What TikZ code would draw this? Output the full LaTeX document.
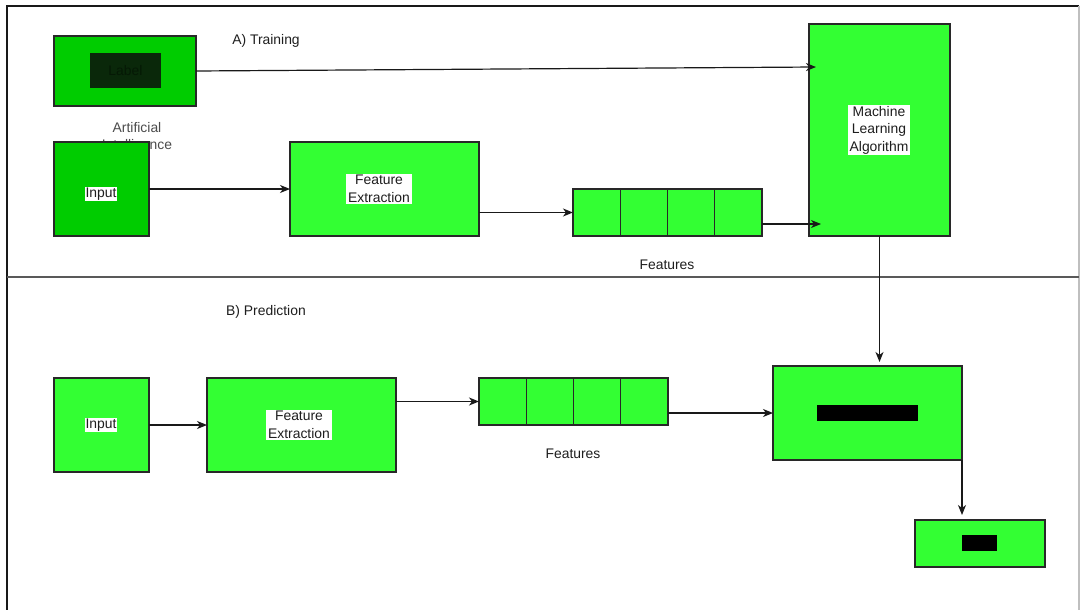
\documentclass[tikz,border=0pt]{standalone}
\usepackage{fontspec}
\setmainfont{Liberation Sans}
\usetikzlibrary{arrows.meta,calc}

\definecolor{darkgreen}{RGB}{0,204,0}
\definecolor{litegreen}{RGB}{51,255,51}
\definecolor{inkgreen}{RGB}{10,40,10}
\definecolor{edge}{RGB}{40,40,40}
\definecolor{txt}{RGB}{30,30,30}

\tikzset{
  base/.style={draw=edge, line width=1.2pt, inner sep=0pt, outer sep=0pt, rectangle},
  gbox/.style={base, fill=litegreen},
  dbox/.style={base, fill=darkgreen},
  cellbox/.style={base, fill=litegreen, minimum width=47.25pt, minimum height=47pt},
  barbox/.style={rectangle, fill=black, inner sep=0pt, outer sep=0pt},
  tag/.style={fill=white, text=txt, inner xsep=2pt, inner ysep=1.2pt, align=center},
  caption/.style={text=txt, inner sep=0pt},
  arr/.style={draw=black!90, line width=1.2pt, -{Stealth[length=10pt,width=8pt,inset=3pt]}},
  frameline/.style={line width=1.2pt}
}

\begin{document}
\begin{tikzpicture}[x=1pt, y=-1pt, font=\fontsize{13.9}{17.5}\selectfont]
\useasboundingbox (0,0) rectangle (1080,610);
\fill[white] (0,0) rectangle (1080,610);

% outer frame and section divider
\draw[frameline, draw=black!90] (7,610) -- (7,6) -- (1079,6);
\draw[frameline, draw=black!25] (1079,6) -- (1079,610);
\draw[frameline, draw=black!65] (7,277) -- (1079,277);

% ---------- A) Training ----------
\node[caption] (ttitle) at (266,41) {A) Training};

% caption that sits behind the input block
\node[caption, text=black!70, align=center] (aicap) at (137,137.5) {Artificial\\Intelligence};

\node[dbox, minimum width=142pt, minimum height=70pt] (label) at (125,71) {};
\node[barbox, fill=inkgreen, minimum width=71pt, minimum height=35pt,
      text={rgb,255:red,5;green,25;blue,5}] (labeltxt) at (125.5,70.5) {Label};

\node[dbox, minimum width=95pt, minimum height=94pt] (tin) at (101.5,189) {};
\node[tag, inner xsep=0.5pt] at (101,194) {Input};

\node[gbox, minimum width=189pt, minimum height=94pt] (tfe) at (384.5,189) {};
\node[tag] at (379,189) {Feature\\Extraction};

\node[cellbox] (f1) at (596.6,212.5) {};
\node[cellbox] (f2) at (643.9,212.5) {};
\node[cellbox] (f3) at (691.1,212.5) {};
\node[cellbox] (f4) at (738.4,212.5) {};
\node[caption] (tfeat) at (667,265) {Features};

\node[gbox, minimum width=141pt, minimum height=212pt] (ml) at (879.5,130) {};
\node[tag] at (879,130) {Machine\\Learning\\Algorithm};

\draw[arr] (label.east) -- ($(ml.north west)+(7,43)$);
\draw[arr] (tin.east) -- (tfe.west);
\draw[arr] (f1.west -| tfe.east) -- (f1.west);
\draw[arr] ($(f4.east)+(0,11.5)$) -- ($(ml.south west)+(12,-12)$);

% ---------- B) Prediction ----------
\node[caption] (ptitle) at (266,312) {B) Prediction};

\node[gbox, minimum width=95pt, minimum height=94pt] (pin) at (101.5,425) {};
\node[tag, inner xsep=0.5pt] at (101,425) {Input};

\node[gbox, minimum width=189pt, minimum height=94pt] (pfe) at (301.5,425) {};
\node[tag] at (299,425) {Feature\\Extraction};

\node[cellbox] (p1) at (502.6,401.5) {};
\node[cellbox] (p2) at (549.9,401.5) {};
\node[cellbox] (p3) at (597.1,401.5) {};
\node[cellbox] (p4) at (644.4,401.5) {};
\node[caption] (pfeat) at (573,454) {Features};

\node[gbox, minimum width=189pt, minimum height=94pt] (res) at (867.5,413) {};
\node[barbox, minimum width=101pt, minimum height=16pt] (resbar) at (867.5,413) {};

\node[gbox, minimum width=130pt, minimum height=47pt] (out) at (980,543.5) {};
\node[barbox, minimum width=35pt, minimum height=16pt] (outbar) at (979.5,543) {};

\draw[arr] (pin.east) -- (pfe.west);
\draw[arr] (p1.west -| pfe.east) -- (p1.west);
\draw[arr] (res.west -| p4.east) -- (res.west);
\draw[arr, shorten >=4pt] (ml.south) -- (ml.south |- res.north);
\draw[arr, shorten >=5pt] (res.south east) -- (res.south east |- out.north);
\end{tikzpicture}
\end{document}
